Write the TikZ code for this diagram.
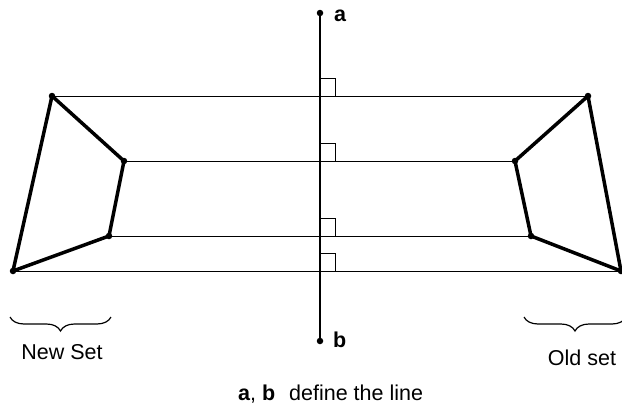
\documentclass[tikz,border=0pt]{standalone}
\usepackage{fontspec}
\setmainfont{Liberation Sans}
\usetikzlibrary{decorations.pathreplacing}
\begin{document}
\begin{tikzpicture}[x=1pt,y=-1pt,
  thinline/.style={line width=0.9pt},
  axis/.style={line width=1.8pt},
  poly/.style={line width=3.5pt, line join=round, line cap=round},
  dot/.style={circle, fill=black, inner sep=0pt, minimum size=6.5pt},
  lbl/.style={font=\fontsize{21.5}{26}\selectfont, inner sep=0pt},
  rmark/.style={line width=0.9pt},
  bracestyle/.style={line width=1.2pt, decorate, decoration={brace, mirror, amplitude=14pt}}]
\clip (0,0) rectangle (622,407);
% points
\node[dot] (L1) at (52,96) {};
\node[dot] (L2) at (124,161) {};
\node[dot] (L3) at (109,236) {};
\node[dot] (L4) at (13,271) {};
\node[dot] (R1) at (588,96) {};
\node[dot] (R2) at (515,161) {};
\node[dot] (R3) at (531,236) {};
\node[dot] (R4) at (621,271) {};
\node[dot] (A) at (320,13) {};
\node[dot] (B) at (320,341) {};
% horizontal lines
\draw[thinline] (L1.center) -- (R1.center);
\draw[thinline] (L2.center) -- (R2.center);
\draw[thinline] (L3.center) -- (R3.center);
\draw[thinline] (L4.center) -- (R4.center);
% axis
\draw[axis] (A.center) -- (B.center);
% right angle markers
\foreach \yy in {96,161,236,271}{
  \draw[rmark] (320,\yy-18) -- (335,\yy-18) -- (335,\yy);
}
% polygons
\draw[poly] (L1.center) -- (L2.center) -- (L3.center) -- (L4.center) -- cycle;
\draw[poly] (R1.center) -- (R2.center) -- (R3.center) -- (R4.center) -- cycle;
% labels
\node[lbl, anchor=west] (la) at (334,16) {\textbf{a}};
\node[lbl, anchor=west] (lb) at (333,340) {\textbf{b}};
% braces
\coordinate (bl1) at (10,317);
\coordinate (bl2) at (111,317);
\coordinate (br1) at (524,317);
\coordinate (br2) at (626,317);
\draw[bracestyle] (bl1) -- (bl2);
\draw[bracestyle] (br1) -- (br2);
\node[lbl] (newset) at (62,352) {New Set};
\node[lbl] (oldset) at (582,358) {Old set};
\node[lbl, anchor=west] (caption) at (238,394) {\textbf{a}, \textbf{b}\hspace{8pt} define the line};
\end{tikzpicture}
\end{document}
